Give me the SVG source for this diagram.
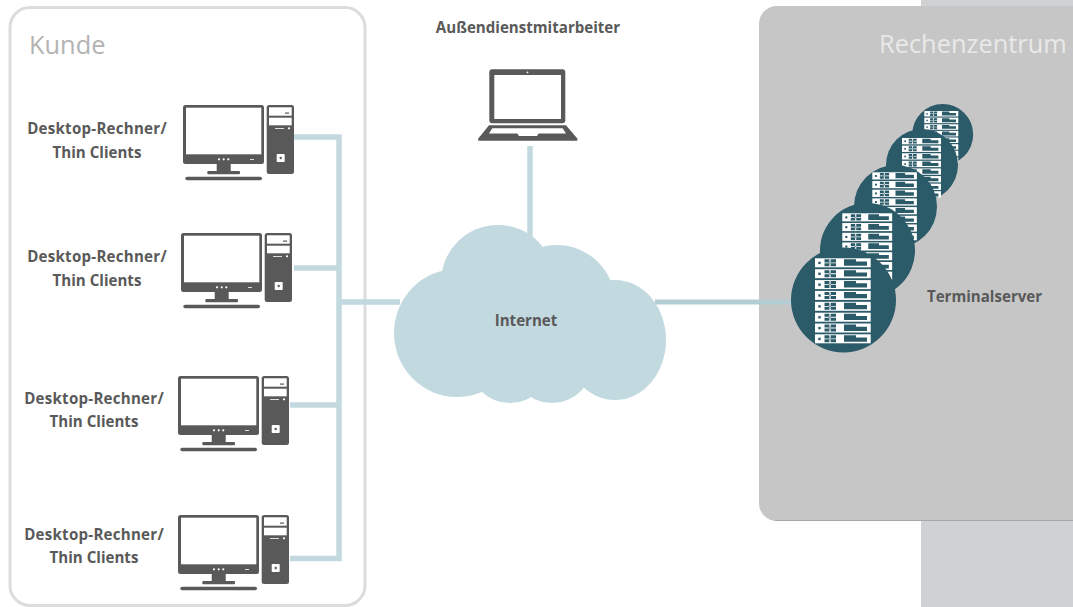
<svg xmlns="http://www.w3.org/2000/svg" xmlns:xlink="http://www.w3.org/1999/xlink" width="1073" height="607" viewBox="0 0 1073 607">
<style>
.lbl{font-family:"Open Sans","Noto Sans","Liberation Sans",sans-serif;font-weight:700;font-size:15.1px;fill:#595959;text-anchor:middle}
.dr{letter-spacing:.25px}
.ttl{font-family:"Open Sans","Noto Sans","Liberation Sans",sans-serif;font-size:25.400px}
.wire{stroke:#c3d9e0;stroke-width:5.5;fill:none}
.thin{stroke:#b4ccd4;stroke-width:5;fill:none}
.dk{fill:#595959}
.wh{fill:#fff}
.tl{fill:#2b5a68}
.cl{fill:#c3d9e0}
</style>
<defs>
<g id="pc">
<rect class="dk" x="0" y="0" width="81" height="59" rx="2.5"/>
<rect class="wh" x="3" y="2.7" width="75.3" height="46.6"/>
<circle class="wh" cx="36" cy="54.3" r="1.1"/><circle class="wh" cx="40.7" cy="54.3" r="1.1"/><circle class="wh" cx="45.3" cy="54.3" r="1.1"/>
<rect class="wh" x="67" y="54" width="4" height="0.8"/>
<rect class="dk" x="33.7" y="59" width="14" height="8"/>
<rect class="dk" x="24.3" y="66" width="32.7" height="3.3" rx="1"/>
<rect class="dk" x="2.3" y="71.7" width="76.7" height="3.6" rx="1.8"/>
<rect class="dk" x="83.7" y="0" width="27.3" height="69" rx="2.5"/>
<rect class="wh" x="86" y="2.3" width="22.7" height="8.4"/>
<rect class="wh" x="86" y="12.7" width="22.7" height="7.6"/>
<rect class="dk" x="102" y="7.5" width="4" height="1.2"/>
<rect class="wh" x="92" y="23" width="9" height="0.8"/>
<circle class="wh" cx="106" cy="23.3" r="1.1"/>
<rect class="wh" x="93.7" y="49" width="8" height="8" rx="0.8"/>
<circle class="dk" cx="97.7" cy="53" r="1.2"/>
</g>
<g id="row">
<rect class="wh" x="0" y="0" width="55.7" height="9"/>
<rect class="tl" x="3.3" y="3.4" width="2.4" height="2.4"/>
<path class="tl" d="M9.5 1H21V8H9.5ZM14.4 1V8H15.6V1ZM9.5 4.1V5H21V4.1Z" fill-rule="evenodd"/>
<path class="tl" d="M29 1H41V3.2H52V7.4H29Z"/>
</g>
<g id="rack">
<use xlink:href="#row" href="#row"/>
<use xlink:href="#row" href="#row" y="10.9"/>
<use xlink:href="#row" href="#row" y="21.8"/>
<use xlink:href="#row" href="#row" y="32.6"/>
<use xlink:href="#row" href="#row" y="43.5"/>
<use xlink:href="#row" href="#row" y="54.4"/>
<use xlink:href="#row" href="#row" y="65.2"/>
<use xlink:href="#row" href="#row" y="76"/>
</g>
</defs>
<rect width="1073" height="607" fill="#fff"/>
<g id="backdrop">
<rect x="921" y="0" width="152" height="607" fill="#d0d1d3"/>
</g>
<g id="kunde">
<rect x="10" y="7.5" width="355" height="598" rx="20" fill="#fff" stroke="#dcdcdc" stroke-width="3"/>
<text class="ttl" x="29" y="54" fill="#b3b3b3">Kunde</text>
</g>
<g id="rechenzentrum">
<rect x="759" y="6" width="340" height="515" rx="18" fill="#c6c6c6"/>
<path d="M775 520.500H1073" stroke="#a6a6a6" stroke-width="1"/>
<text class="ttl" x="879" y="53" fill="#e9e9e9">Rechenzentrum</text>
</g>
<g id="connectors">
<path class="wire" d="M294 137H339V558.500H290"/>
<path class="wire" d="M294 268H339"/>
<path class="wire" d="M290 405H339"/>
<path class="wire" d="M339 302H400"/>
<path class="wire" d="M530 146V240"/>
<path class="thin" d="M655 302H795"/>
</g>
<g id="pc1"><use xlink:href="#pc" href="#pc" x="183" y="105"/><text class="lbl dr" x="97" y="134">Desktop-Rechner/</text><text class="lbl" x="97" y="158">Thin Clients</text></g>
<g id="pc2"><use xlink:href="#pc" href="#pc" x="181" y="233"/><text class="lbl dr" x="97" y="262">Desktop-Rechner/</text><text class="lbl" x="97" y="286">Thin Clients</text></g>
<g id="pc3"><use xlink:href="#pc" href="#pc" x="178" y="376"/><text class="lbl dr" x="94" y="404">Desktop-Rechner/</text><text class="lbl" x="94" y="427">Thin Clients</text></g>
<g id="pc4"><use xlink:href="#pc" href="#pc" x="178" y="515"/><text class="lbl dr" x="94" y="540">Desktop-Rechner/</text><text class="lbl" x="94" y="563">Thin Clients</text></g>
<g id="laptop">
<text class="lbl" x="528" y="33">Außendienstmitarbeiter</text>
<rect class="dk" x="489.300" y="69.300" width="76" height="54" rx="3"/>
<rect class="wh" x="494.300" y="75" width="66.700" height="44"/>
<circle class="wh" cx="527.500" cy="72.300" r="0.9"/>
<path class="dk" d="M489 125.300H566L577.300 138.500V140.700H478.300V138.500Z"/>
<path class="wh" d="M492.300 128.300H562.700L566 133.500H538.500L537 136H519L517.300 133.500H489Z"/>
</g>
<g id="internet">
<ellipse class="cl" cx="457" cy="333" rx="63" ry="64"/>
<circle class="cl" cx="498" cy="282" r="57"/>
<circle class="cl" cx="557" cy="303" r="58"/>
<ellipse class="cl" cx="615" cy="340" rx="51" ry="60"/>
<circle class="cl" cx="510" cy="362" r="41"/>
<circle class="cl" cx="552" cy="362" r="41"/>
<rect class="cl" x="450" y="290" width="150" height="70"/>
<text class="lbl" x="526" y="326">Internet</text>
</g>
<g id="terminalserver">
<circle class="tl" cx="942.700" cy="134.500" r="30.500"/>
<use xlink:href="#rack" href="#rack" transform="translate(924.300 111) scale(.61)"/>
<circle class="tl" cx="922" cy="165" r="36"/>
<use xlink:href="#rack" href="#rack" transform="translate(902 138) scale(.7)"/>
<circle class="tl" cx="895.500" cy="206.500" r="41.500"/>
<use xlink:href="#rack" href="#rack" transform="translate(872.300 172.300) scale(.8)"/>
<circle class="tl" cx="867.500" cy="250.500" r="47.500"/>
<use xlink:href="#rack" href="#rack" transform="translate(842.300 213.300) scale(.895)"/>
<circle class="tl" cx="843.500" cy="300" r="52.500"/>
<use xlink:href="#rack" href="#rack" transform="translate(815 258.300)"/>
<text class="lbl" x="984.500" y="302">Terminalserver</text>
</g>
</svg>
